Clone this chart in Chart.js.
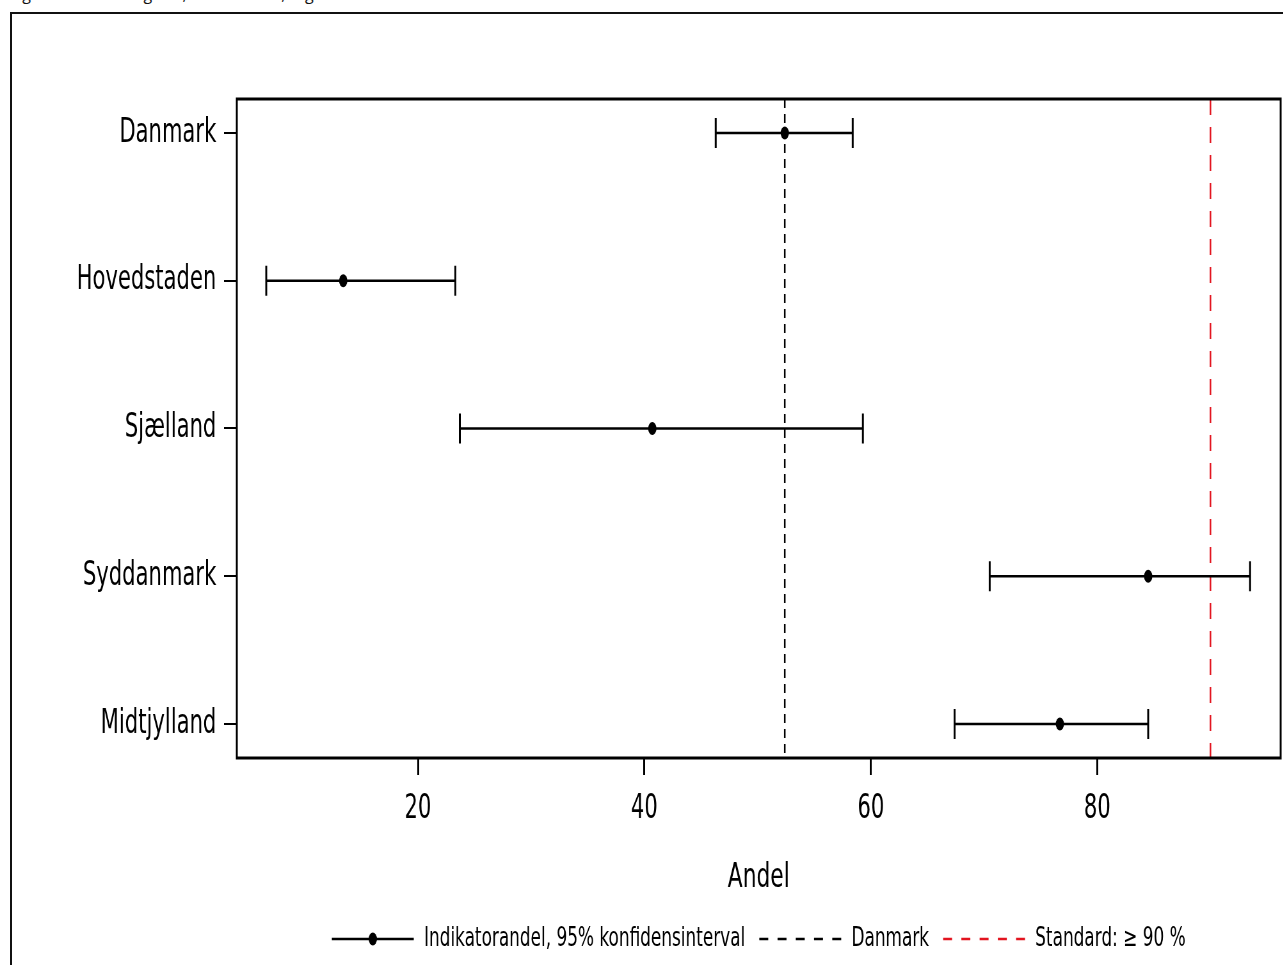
<!DOCTYPE html>
<html>
<head>
<meta charset="utf-8">
<script src="https://cdn.jsdelivr.net/npm/chart.js@4"></script>
<style>
html, body { margin: 0; padding: 0; background: #fff; overflow: hidden; width: 1283px; height: 965px; }
#frame { position: absolute; left: 10px; top: 12px; width: 1400px; height: 1100px; border: 2px solid #111; }
#caption { position: absolute; left: 10px; top: -17px; font: 16px "Open Sans", sans-serif; color: #111; white-space: nowrap; }
#myChart { position: absolute; left: 0; top: 0; transform: scaleX(0.64); transform-origin: 0 0; }
</style>
</head>
<body>
<div id="caption">Figur 3. Forest-diagram, Indikator 2b, regioner</div>
<div id="frame"></div>
<canvas id="myChart" width="2019" height="965"></canvas>
<script>
// data
var regions = ['Danmark', 'Hovedstaden', 'Sjælland', 'Syddanmark', 'Midtjylland'];
var estimate = [52.4, 13.4, 40.7, 84.5, 76.7];
var lower = [46.3, 6.6, 23.7, 70.5, 67.4];
var upper = [58.4, 23.3, 59.3, 93.5, 84.5];
var standard = 90;
var xTicks = [20, 40, 60, 80];
var legendTexts = ['Indikatorandel, 95% konfidensinterval', 'Danmark', 'Standard: \u2265 90 %'];

var RED = '#e2141f';
var FONT = "'DejaVu Sans', sans-serif";
var yMin = -0.23, yMax = 4.23;

var datasets = [];
// point estimates
datasets.push({
    type: 'scatter',
    data: regions.map(function (r, i) { return {x: estimate[i], y: i}; }),
    pointStyle: 'circle',
    pointRadius: 6.5,
    backgroundColor: '#000',
    borderWidth: 0,
    order: 0
});
// confidence intervals, one per region
for (let i = 0; i < regions.length; i++) {
    datasets.push({
        type: 'scatter',
        showLine: true,
        data: [{x: lower[i], y: i}, {x: upper[i], y: i}],
        borderColor: '#000',
        borderWidth: 2.5,
        pointStyle: 'line',
        rotation: 90,
        pointRadius: 15,
        pointBorderWidth: 3,
        pointBorderColor: '#000',
        order: 1
    });
}
// Danmark reference line
datasets.push({
    type: 'scatter',
    showLine: true,
    data: [{x: estimate[0], y: yMin}, {x: estimate[0], y: yMax}],
    borderColor: '#000',
    borderWidth: 2.5,
    borderDash: [9, 6],
    pointRadius: 0,
    order: 2
});
// standard line
datasets.push({
    type: 'scatter',
    showLine: true,
    data: [{x: standard, y: yMin}, {x: standard, y: yMax}],
    borderColor: RED,
    borderWidth: 2.5,
    borderDash: [16, 12],
    pointRadius: 0,
    order: 2
});

var framePlugin = {
    id: 'frame',
    afterDraw: function (chart) {
        var a = chart.chartArea;
        var ctx = chart.ctx;
        ctx.save();
        ctx.strokeStyle = '#000';
        ctx.lineWidth = 3;
        ctx.strokeRect(a.left, a.top, a.right - a.left, a.bottom - a.top);
        ctx.restore();
    }
};

var legendPlugin = {
    id: 'myLegend',
    afterDraw: function (chart) {
        var ctx = chart.ctx;
        var a = chart.chartArea;
        var y = 939;
        var lineLen = 128, gapText = 16, gapItem = 22;
        ctx.save();
        ctx.font = '26.4px ' + FONT;
        ctx.textBaseline = 'middle';
        ctx.fillStyle = '#000';
        var total = 0;
        legendTexts.forEach(function (t, i) {
            total += lineLen + gapText + ctx.measureText(t).width;
            if (i < legendTexts.length - 1) total += gapItem;
        });
        var x = (a.left + a.right) / 2 - total / 2;
        legendTexts.forEach(function (t, i) {
            ctx.beginPath();
            ctx.lineWidth = 2.5;
            if (i == 0) {
                ctx.setLineDash([]);
                ctx.strokeStyle = '#000';
                ctx.moveTo(x, y); ctx.lineTo(x + lineLen, y); ctx.stroke();
                ctx.beginPath();
                ctx.arc(x + lineLen / 2, y, 6.5, 0, Math.PI * 2);
                ctx.fill();
            } else {
                ctx.setLineDash([14, 14.5]);
                ctx.strokeStyle = i == 1 ? '#000' : RED;
                ctx.moveTo(x, y); ctx.lineTo(x + lineLen, y); ctx.stroke();
            }
            x += lineLen + gapText;
            ctx.fillText(t, x, y);
            x += ctx.measureText(t).width + gapItem;
        });
        ctx.restore();
    }
};

var ctx = document.getElementById('myChart').getContext('2d');
var myChart = new Chart(ctx, {
    type: 'scatter',
    data: {datasets: datasets},
    plugins: [framePlugin, legendPlugin],
    options: {
        responsive: false,
        devicePixelRatio: 1,
        animation: false,
        events: [],
        layout: {padding: {top: 99, right: 5, bottom: 66, left: 0}},
        plugins: {legend: {display: false}, tooltip: {enabled: false}},
        scales: {
            x: {
                type: 'linear',
                min: 4,
                max: 96.2,
                afterBuildTicks: function (scale) {
                    scale.ticks = xTicks.map(function (v) { return {value: v}; });
                },
                afterFit: function (scale) { scale.height = 141; },
                grid: {drawOnChartArea: false, drawTicks: true, tickLength: 17, color: '#000', lineWidth: 3},
                border: {display: false},
                ticks: {color: '#000', font: {family: FONT, size: 33}, padding: 15, maxRotation: 0},
                title: {display: true, text: 'Andel', color: '#000', font: {family: FONT, size: 34}, padding: 0}
            },
            y: {
                type: 'linear',
                reverse: true,
                min: yMin,
                max: yMax,
                afterBuildTicks: function (scale) {
                    scale.ticks = regions.map(function (r, i) { return {value: i}; });
                },
                afterFit: function (scale) { scale.width = 370; },
                grid: {drawOnChartArea: false, drawTicks: true, tickLength: 20, color: '#000', lineWidth: 2},
                border: {display: false},
                ticks: {
                    color: '#000',
                    font: {family: FONT, size: 33},
                    padding: 12,
                    callback: function (v) { return regions[v]; }
                }
            }
        }
    }
});
</script>
</body>
</html>
